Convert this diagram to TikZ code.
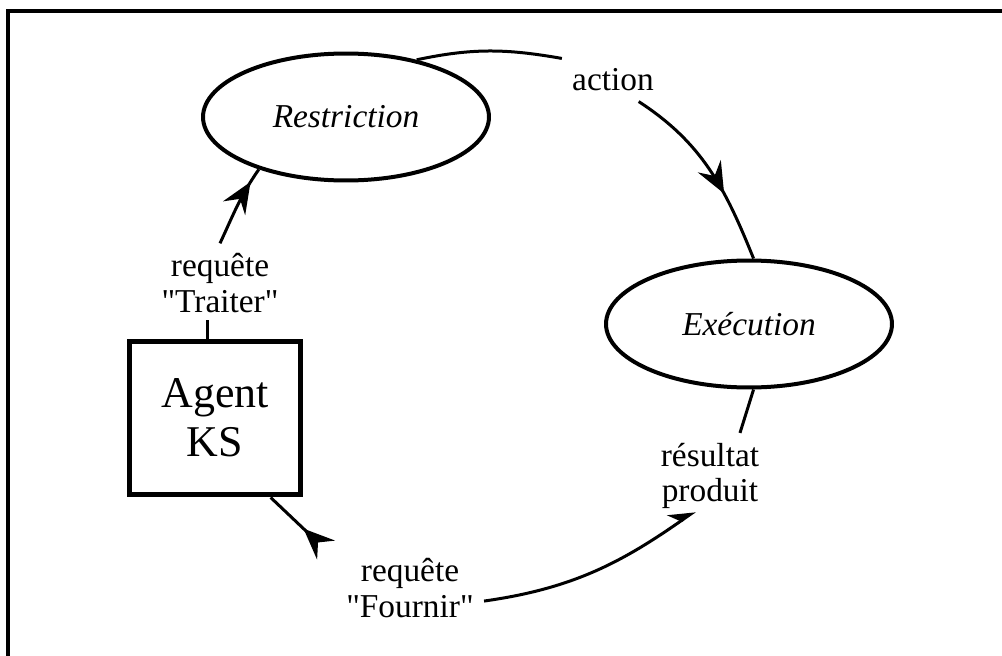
\documentclass[tikz,border=0pt]{standalone}
\usepackage{fontspec}
\setmainfont{Liberation Serif}[Ligatures=TeXOff]
\usetikzlibrary{shapes.geometric,arrows.meta,decorations.markings,positioning}

\tikzset{
  etat/.style={ellipse, draw, line width=0.08cm, minimum width=5.72cm,
    minimum height=2.54cm, inner sep=0pt, font=\fontsize{19}{20}\selectfont\itshape},
  agentbox/.style={draw, line width=0.1cm, minimum width=3.42cm, minimum height=3.08cm,
    inner sep=0pt, align=center, font=\fontsize{25}{28}\selectfont},
  etiq/.style={align=center, inner sep=0.2cm, font=\fontsize{19}{20}\selectfont},
  lien/.style={line width=0.06cm},
  fleche/.style={postaction={decorate}, decoration={markings,
    mark=at position #1 with {\arrow{Stealth[length=0.62cm,width=0.52cm,inset=0.22cm]}}}}
}

\begin{document}
\begin{tikzpicture}[x=0.02cm, y=0.02cm]
  \useasboundingbox (0,0) rectangle (1002,-656);
  \clip (0,0) rectangle (1002,-656);
  % Cadre
  \draw[line width=0.08cm] (8,-700) -- (8,-11) -- (1050,-11);

  % Etats et agent
  \node[etat] (restr) at (346,-117) {Restriction};
  \node[etat] (exec) at (749,-324) {Exécution};
  \node[agentbox] (agent) at (215,-418) {Agent\\KS};

  % Etiquettes
  \node[etiq] (act) at (613,-80) {action};
  \node[etiq] (trait) at (220,-283) {requête\\"Traiter"};
  \node[etiq] (res) at (710,-476) {résultat\\produit};
  \node[etiq] (fourn) at (410,-588) {requête\\"Fournir"};
  \coordinate (bout) at (326,-550);

  % Liens
  \draw[lien] (restr.39) to[out=12, in=170] (act.north west);
  \draw[lien, fleche=0.64] (act.-40) to[out=-33, in=112] (exec.86);
  \draw[lien] (exec.-86) -- ([xshift=0.6cm]res.north);
  \draw[lien, -{Stealth[harpoon,length=0.45cm,width=0.5cm,inset=0.15cm]}] (fourn.-10)
    to[out=8, in=-145] ([shift={(-15,8)}]res.south);
  \draw[lien, -{Stealth[reversed,length=0.62cm,width=0.52cm,inset=0.22cm]}] (agent.-55) -- (bout);
  \draw[lien, fleche=0.82] (trait.north) to[out=65, in=-125] (restr.-149);
  \draw[lien] ([xshift=-0.16cm]agent.north) -- ++(0,0.38cm);
\end{tikzpicture}
\end{document}
